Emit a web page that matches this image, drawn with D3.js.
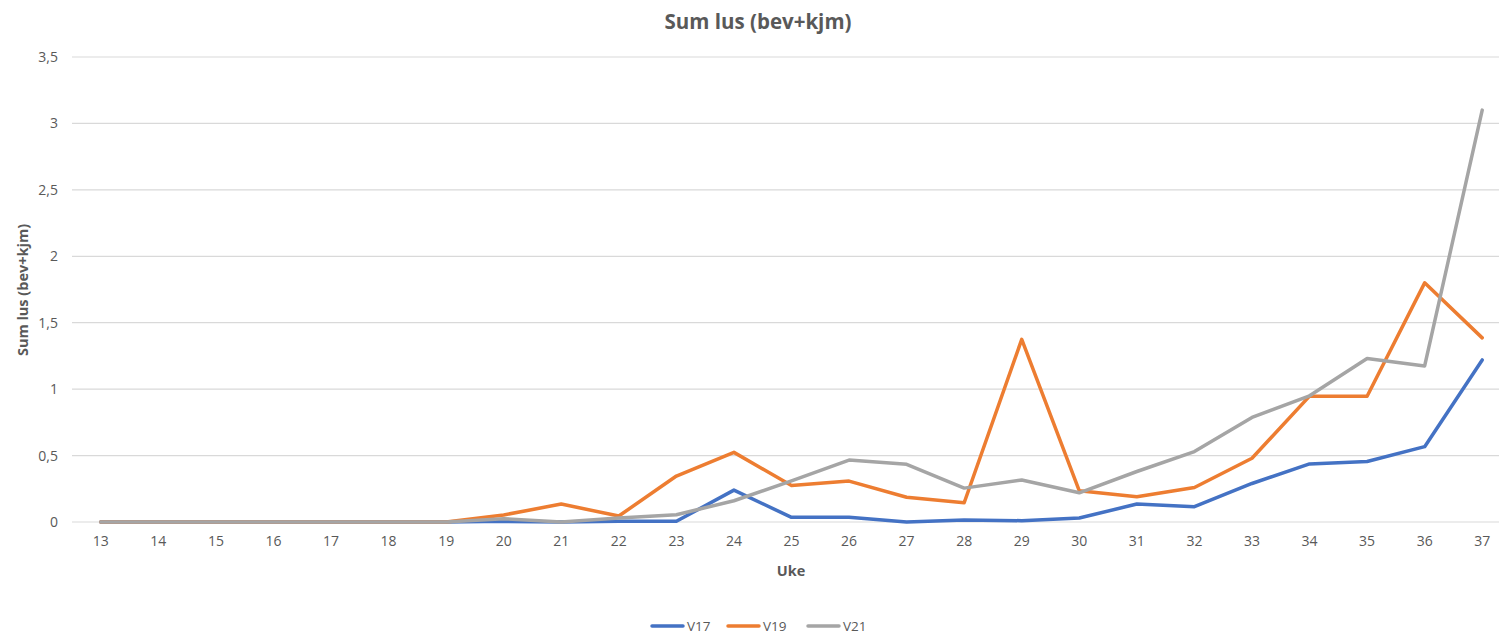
<!DOCTYPE html>
<html>
<head>
<meta charset="utf-8">
<script src="https://cdn.jsdelivr.net/npm/d3@7"></script>
<style>
  body { margin: 0; background: #fff; overflow: hidden; }
  text { font-family: "Open Sans", "DejaVu Sans", sans-serif; }
</style>
</head>
<body>
<div id="chart"></div>
<script>
// weeks on the x axis
const weeks = [13, 14, 15, 16, 17, 18, 19, 20, 21, 22, 23, 24, 25, 26, 27, 28, 29, 30, 31, 32, 33, 34, 35, 36, 37];

// series values
const v17 = [0, 0, 0, 0, 0, 0, 0, 0.005, 0, 0.005, 0.005, 0.24, 0.035, 0.035, 0, 0.015, 0.01, 0.03, 0.135, 0.115, 0.29, 0.437, 0.455, 0.567, 1.22];
const v19 = [0, 0, 0, 0, 0, 0, 0, 0.053, 0.135, 0.045, 0.346, 0.524, 0.275, 0.308, 0.186, 0.145, 1.375, 0.235, 0.19, 0.26, 0.48, 0.947, 0.947, 1.8, 1.386];
const v21 = [0, 0, 0, 0, 0, 0, 0, 0.025, 0, 0.03, 0.055, 0.16, 0.31, 0.466, 0.434, 0.255, 0.316, 0.22, 0.38, 0.53, 0.787, 0.95, 1.23, 1.175, 3.1];

const seriesNames = ["V17", "V19", "V21"];
const seriesValues = [v17, v19, v21];
const yTicks = [0, 0.5, 1, 1.5, 2, 2.5, 3, 3.5];

const colors = ["#4472C4", "#ED7D31", "#A5A5A5"];
const width = 1499, height = 635;
const fmt = d => String(d).replace(".", ",");

const svg = d3.select("#chart").append("svg")
  .attr("width", width)
  .attr("height", height)
  .style("display", "block");

// scales
const x = d3.scaleBand().domain(weeks).range([72, 1511]);
const y = d3.scaleLinear().domain([0, 3.5]).range([522, 57]);

// title
svg.append("text")
  .attr("x", 758).attr("y", 29)
  .attr("text-anchor", "middle")
  .attr("font-size", "20.5px")
  .attr("font-weight", "bold")
  .attr("fill", "#595959")
  .text("Sum lus (bev+kjm)");

// grid lines
svg.append("g")
  .selectAll("line")
  .data(yTicks)
  .join("line")
  .attr("x1", 72).attr("x2", 1511)
  .attr("y1", d => y(d)).attr("y2", d => y(d))
  .attr("stroke", "#d9d9d9")
  .attr("stroke-width", 1.2);

// y axis labels
const yAxis = svg.append("g")
  .attr("transform", "translate(72,0)")
  .call(d3.axisLeft(y).tickValues(yTicks).tickFormat(fmt).tickSize(0).tickPadding(14));
yAxis.select(".domain").remove();
yAxis.selectAll("text")
  .attr("font-size", "14px")
  .attr("fill", "#595959")
  .style("font-family", "'Open Sans', sans-serif");

// x axis labels
const xAxis = svg.append("g")
  .attr("transform", "translate(0,522)")
  .call(d3.axisBottom(x).tickSize(0).tickPadding(14));
xAxis.select(".domain").remove();
xAxis.selectAll("text")
  .attr("font-size", "14px")
  .attr("fill", "#595959")
  .style("font-family", "'Open Sans', sans-serif");

// axis titles
svg.append("text")
  .attr("transform", "translate(28,290) rotate(-90)")
  .attr("text-anchor", "middle")
  .attr("font-size", "14.5px")
  .attr("font-weight", "bold")
  .attr("fill", "#595959")
  .text("Sum lus (bev+kjm)");

svg.append("text")
  .attr("x", 791).attr("y", 576)
  .attr("text-anchor", "middle")
  .attr("font-size", "14.5px")
  .attr("font-weight", "bold")
  .attr("fill", "#595959")
  .text("Uke");

// lines
const line = d3.line()
  .x((d, i) => x(weeks[i]) + x.bandwidth() / 2)
  .y(d => y(d));

svg.append("g")
  .selectAll("path")
  .data(seriesValues)
  .join("path")
  .attr("d", line)
  .attr("fill", "none")
  .attr("stroke", (d, i) => colors[i])
  .attr("stroke-width", 3.5)
  .attr("stroke-linejoin", "round")
  .attr("stroke-linecap", "round");

// legend
const legendX = [652, 728, 808];
const legend = svg.append("g")
  .selectAll("g")
  .data(seriesNames)
  .join("g")
  .attr("transform", (d, i) => `translate(${legendX[i]},626)`);

legend.append("line")
  .attr("x1", 0).attr("x2", 31)
  .attr("stroke", (d, i) => colors[i])
  .attr("stroke-width", 3.5)
  .attr("stroke-linecap", "round");

legend.append("text")
  .attr("x", 35).attr("y", 0)
  .attr("dy", "0.35em")
  .attr("font-size", "13.5px")
  .attr("fill", "#595959")
  .text(d => d);
</script>
</body>
</html>
